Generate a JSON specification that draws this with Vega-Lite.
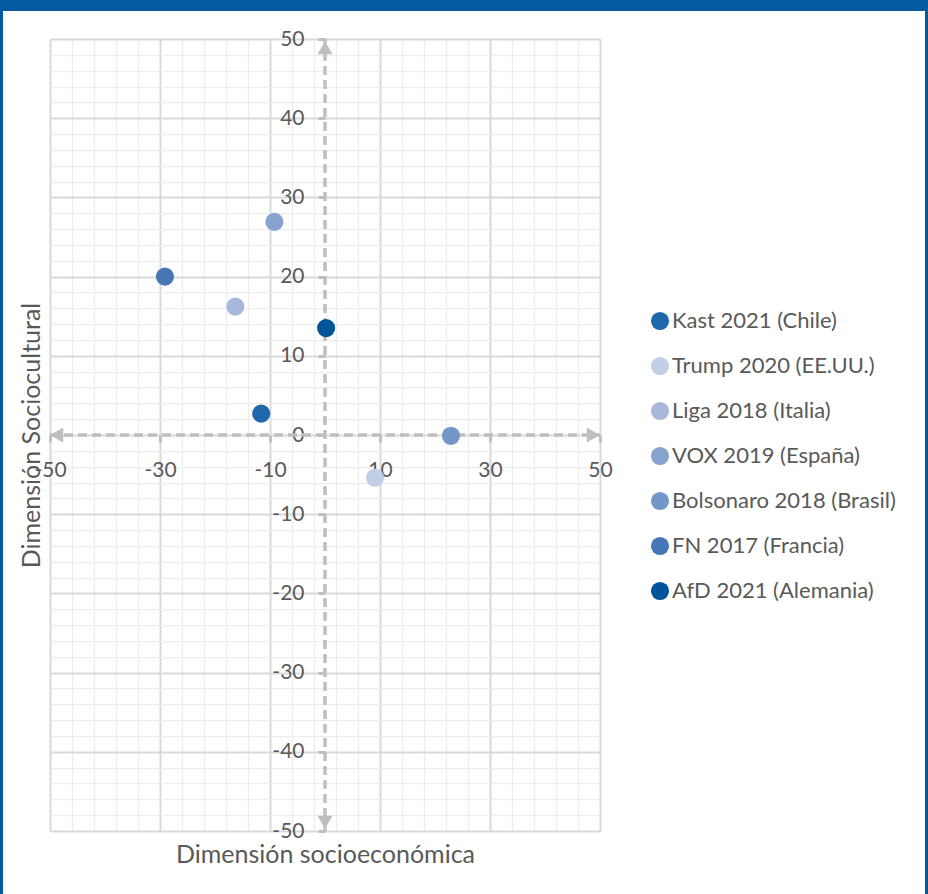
{
  "$schema": "https://vega.github.io/schema/vega-lite/v6.json",
  "padding": 0,
  "background": "white",
  "config": {"font": "Lato", "view": {"stroke": null}},
  "spacing": 0,
  "hconcat": [
    {
      "width": 3, "height": 894,
      "data": {"values": [{}]},
      "mark": {"type": "rect", "color": "#035a9f"},
      "encoding": {},
      "view": {"fill": "#035a9f", "stroke": null}
    },
    {
      "spacing": 17,
      "vconcat": [
        {
          "width": 922, "height": 11,
          "data": {"values": [{}]},
          "mark": {"type": "rect", "color": "#035a9f"},
          "encoding": {},
          "view": {"fill": "#035a9f", "stroke": null}
        },
        {
          "spacing": 0,
          "hconcat": [
            {
              "width": 16, "height": 10,
              "data": {"values": [{}]},
              "mark": {"type": "rect", "opacity": 0},
              "encoding": {}
            },
            {
              "width": 550,
              "height": 792,
              "layer": [
                {
                  "data": {"values": [
                    {"x": -50, "x2": 50, "y": 0, "y2": 0},
                    {"x": 0, "x2": 0, "y": -50, "y2": 50}
                  ]},
                  "mark": {"type": "rule", "color": "#bfbfbf", "strokeWidth": 3.5, "strokeDash": [9, 5]},
                  "encoding": {
                    "x": {
                      "field": "x", "type": "quantitative",
                      "scale": {"domain": [-50, 50], "nice": false, "zero": false},
                      "axis": {
                        "orient": "bottom",
                        "values": [-50,-46,-42,-38,-34,-30,-26,-22,-18,-14,-10,-6,-2,2,6,10,14,18,22,26,30,34,38,42,46,50],
                        "grid": true,
                        "gridColor": {"condition": {"test": "(datum.value + 50) % 20 === 0", "value": "#d9d9d9"}, "value": "#ededed"},
                        "gridWidth": {"condition": {"test": "(datum.value + 50) % 20 === 0", "value": 2}, "value": 1.25},
                        "labels": false, "ticks": false, "domain": false,
                        "title": "Dimensión socioeconómica",
                        "titleFontSize": 25, "titleFontWeight": "normal", "titleColor": "#595959", "titlePadding": 11
                      }
                    },
                    "x2": {"field": "x2"},
                    "y": {
                      "field": "y", "type": "quantitative",
                      "scale": {"domain": [-50, 50], "nice": false, "zero": false},
                      "axis": {
                        "orient": "left",
                        "values": [-50,-48,-46,-44,-42,-40,-38,-36,-34,-32,-30,-28,-26,-24,-22,-20,-18,-16,-14,-12,-10,-8,-6,-4,-2,0,2,4,6,8,10,12,14,16,18,20,22,24,26,28,30,32,34,36,38,40,42,44,46,48,50],
                        "grid": true,
                        "gridColor": {"condition": {"test": "datum.value % 10 === 0", "value": "#d9d9d9"}, "value": "#ededed"},
                        "gridWidth": {"condition": {"test": "datum.value % 10 === 0", "value": 2}, "value": 1.25},
                        "labels": false, "ticks": false, "domain": false,
                        "title": "Dimensión Sociocultural",
                        "titleFontSize": 25, "titleFontWeight": "normal", "titleColor": "#595959", "titlePadding": 6
                      }
                    },
                    "y2": {"field": "y2"}
                  }
                },
                {
                  "data": {"values": [
                    {"x": 48.8, "y": 0, "flecha": "triangle-right"},
                    {"x": -48.8, "y": 0, "flecha": "triangle-left"},
                    {"x": 0, "y": 48.9, "flecha": "triangle-up"},
                    {"x": 0, "y": -48.9, "flecha": "triangle-down"}
                  ]},
                  "mark": {"type": "point", "filled": true, "color": "#bfbfbf", "size": 230, "opacity": 1},
                  "encoding": {
                    "x": {"field": "x", "type": "quantitative", "scale": {"domain": [-50, 50], "nice": false, "zero": false}, "axis": null},
                    "y": {"field": "y", "type": "quantitative", "scale": {"domain": [-50, 50], "nice": false, "zero": false}, "axis": null},
                    "shape": {"field": "flecha", "type": "nominal", "scale": null}
                  }
                },
                {
                  "data": {"values": [
                    {"candidato": "Kast 2021 (Chile)", "x": -11.6, "y": 2.7},
                    {"candidato": "Trump 2020 (EE.UU.)", "x": 9.1, "y": -5.4},
                    {"candidato": "Liga 2018 (Italia)", "x": -16.3, "y": 16.2},
                    {"candidato": "VOX 2019 (España)", "x": -9.2, "y": 26.9},
                    {"candidato": "Bolsonaro 2018 (Brasil)", "x": 22.9, "y": -0.1},
                    {"candidato": "FN 2017 (Francia)", "x": -29.1, "y": 20.0},
                    {"candidato": "AfD 2021 (Alemania)", "x": 0.2, "y": 13.5}
                  ]},
                  "mark": {"type": "circle", "size": 330, "opacity": 1},
                  "encoding": {
                    "x": {
                      "field": "x", "type": "quantitative",
                      "scale": {"domain": [-50, 50], "nice": false, "zero": false},
                      "axis": {
                        "orient": "bottom", "offset": -396,
                        "values": [-50, -30, -10, 10, 30, 50],
                        "labelExpr": "'' + datum.value",
                        "grid": false, "domain": false,
                        "ticks": true, "tickSize": 7, "tickWidth": 3, "tickColor": "#bfbfbf",
                        "labelFontSize": 21, "labelColor": "#595959", "labelPadding": 17,
                        "labelFlush": false, "labelOverlap": false,
                        "title": null
                      }
                    },
                    "y": {
                      "field": "y", "type": "quantitative",
                      "scale": {"domain": [-50, 50], "nice": false, "zero": false},
                      "axis": {
                        "orient": "left", "offset": -275,
                        "values": [-50, -40, -30, -20, -10, 0, 10, 20, 30, 40, 50],
                        "labelExpr": "'' + datum.value",
                        "grid": false, "domain": false,
                        "ticks": true, "tickSize": 7, "tickWidth": 3, "tickColor": "#bfbfbf",
                        "labelFontSize": 21, "labelColor": "#595959", "labelPadding": 14,
                        "labelFlush": false, "labelOverlap": false,
                        "title": null
                      }
                    },
                    "color": {
                      "field": "candidato", "type": "nominal",
                      "scale": {
                        "domain": ["Kast 2021 (Chile)", "Trump 2020 (EE.UU.)", "Liga 2018 (Italia)", "VOX 2019 (España)", "Bolsonaro 2018 (Brasil)", "FN 2017 (Francia)", "AfD 2021 (Alemania)"],
                        "range": ["#2068ac", "#c2cde6", "#a7b8dc", "#88a2d0", "#7497c9", "#4676b4", "#005499"]
                      },
                      "legend": {
                        "orient": "none", "legendX": 649, "legendY": 310,
                        "title": null, "padding": 0,
                        "labelFontSize": 22, "labelColor": "#595959", "labelLimit": 400, "labelOffset": 1,
                        "symbolType": "circle", "symbolSize": 330, "symbolStrokeWidth": 0, "symbolOpacity": 1,
                        "rowPadding": 23
                      }
                    }
                  }
                }
              ],
              "resolve": {"axis": {"x": "independent", "y": "independent"}}
            }
          ]
        }
      ]
    },
    {
      "width": 3, "height": 894,
      "data": {"values": [{}]},
      "mark": {"type": "rect", "color": "#035a9f"},
      "encoding": {},
      "view": {"fill": "#035a9f", "stroke": null}
    }
  ]
}
